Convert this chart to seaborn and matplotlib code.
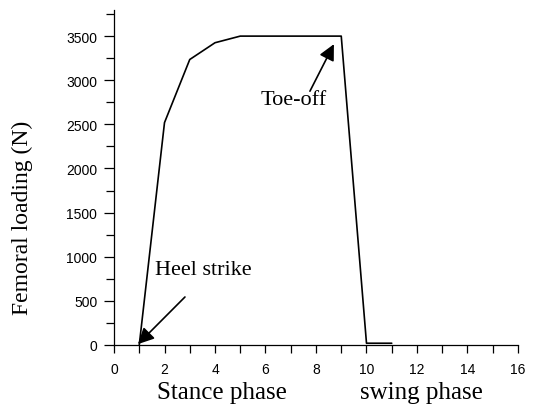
import matplotlib
matplotlib.use("Agg")
import matplotlib.pyplot as plt
import seaborn as sns
import pandas as pd
from matplotlib.ticker import MultipleLocator

# Data
time_pts = [1, 2, 3, 4, 5, 9, 10, 11]
load_n = [0, 2520, 3235, 3425, 3500, 3500, 20, 20]
x_ticks = [0, 2, 4, 6, 8, 10, 12, 14, 16]
y_ticks = [0, 500, 1000, 1500, 2000, 2500, 3000, 3500]

sns.set_theme(style="ticks")
plt.rcParams['font.family'] = ['Liberation Sans', 'DejaVu Sans']

df = pd.DataFrame({"t": time_pts, "load": load_n})

fig = plt.figure(figsize=(5.34, 4.06), dpi=100)
ax = fig.add_axes([0.2135, 0.1478, 0.7565, 0.826])

sns.lineplot(data=df, x="t", y="load", ax=ax, color="black", linewidth=1.2,
             sort=False, estimator=None)

ax.set_xlim(0, 16)
ax.set_ylim(0, 3800)
ax.set_xticks(x_ticks)
ax.set_yticks(y_ticks)
ax.xaxis.set_minor_locator(MultipleLocator(1))
ax.yaxis.set_minor_locator(MultipleLocator(250))
ax.tick_params(axis="both", which="both", direction="out", color="black",
               width=0.9, labelsize=10, labelcolor="black")
ax.tick_params(axis="y", which="major", length=7, pad=5)
ax.tick_params(axis="y", which="minor", length=6)
ax.tick_params(axis="x", which="both", length=6, pad=6)

for s in ["top", "right"]:
    ax.spines[s].set_visible(False)
for s in ["left", "bottom"]:
    ax.spines[s].set_color("black")
    ax.spines[s].set_linewidth(0.9)

serif = ["Liberation Serif", "DejaVu Serif"]
ax.set_xlabel("")
ax.set_ylabel("Femoral loading (N)", family=serif, fontsize=17, color="black")
ax.yaxis.set_label_coords(-0.2005, 0.382)

ax.text(4.28, -0.158, "Stance phase", transform=ax.get_xaxis_transform(),
        ha="center", va="baseline", family=serif, fontsize=18, color="black")
ax.text(12.16, -0.158, "swing phase", transform=ax.get_xaxis_transform(),
        ha="center", va="baseline", family=serif, fontsize=18, color="black")

ax.annotate("Heel strike", xy=(0.95, 10), xytext=(1.62, 804),
            ha="left", va="baseline", family=serif, fontsize=16, color="black")
ax.annotate("", xy=(0.95, 10), xytext=(2.81, 544),
            arrowprops=dict(arrowstyle="-|>", color="black", lw=1.2,
                            mutation_scale=24, shrinkA=0, shrinkB=0))

ax.annotate("Toe-off", xy=(8.71, 3409), xytext=(5.82, 2729),
            ha="left", va="baseline", family=serif, fontsize=16, color="black")
ax.annotate("", xy=(8.71, 3409), xytext=(7.76, 2876),
            arrowprops=dict(arrowstyle="-|>", color="black", lw=1.2,
                            mutation_scale=24, shrinkA=0, shrinkB=0))

fig.savefig("out.png", dpi=100)
